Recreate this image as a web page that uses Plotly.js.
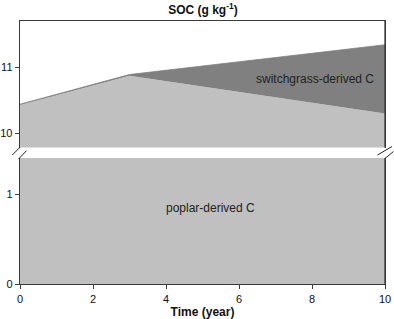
<!DOCTYPE html>
<html><head><meta charset="utf-8">
<script src="https://cdn.plot.ly/plotly-3.0.1.min.js"></script>
<style>html,body{margin:0;padding:0;background:#fff;}#chart{width:394px;height:319px;}</style>
</head><body><div id="chart"></div>
<script>
const years = [0, 3, 10];
const poplarC = [10.43, 10.87, 10.30];
const totalSOC = [10.44, 10.89, 11.34];
const xTicks = [0, 2, 4, 6, 8, 10];
const upperTicks = [10, 11];
const lowerTicks = [0, 1];

const light = '#c0c0c0', dark = '#808080', axisCol = '#3a3a3a';
const traces = [
  {x: years, y: poplarC, xaxis: 'x2', yaxis: 'y2', type: 'scatter', mode: 'lines',
   fill: 'tozeroy', fillcolor: light, line: {width: 0, color: light}, hoverinfo: 'skip'},
  {x: years, y: totalSOC, xaxis: 'x2', yaxis: 'y2', type: 'scatter', mode: 'lines',
   fill: 'tonexty', fillcolor: dark, line: {width: 0.8, color: dark}, hoverinfo: 'skip'},
  {x: years, y: poplarC, xaxis: 'x', yaxis: 'y', type: 'scatter', mode: 'lines',
   fill: 'tozeroy', fillcolor: light, line: {width: 0, color: light}, hoverinfo: 'skip'}
];
const tf = {family: 'Liberation Sans, Arial, sans-serif', size: 11, color: '#111'};
const seg = (x0, y0, x1, y1, c, w) => ({type: 'line', xref: 'paper', yref: 'paper', x0, y0, x1, y1,
  layer: 'above', line: {color: c, width: w}});
const layout = {
  width: 394, height: 319,
  margin: {l: 20, r: 9, t: 21, b: 35},
  paper_bgcolor: '#fff', plot_bgcolor: 'rgba(0,0,0,0)',
  showlegend: false,
  font: tf,
  title: {text: 'SOC (g kg<sup>-1</sup>)', x: 0.515, xanchor: 'center', y: 0.97, yanchor: 'middle',
    font: {family: 'Liberation Sans, Arial, sans-serif', size: 12, color: '#111', weight: 'bold'}},
  xaxis: {domain: [0, 1], anchor: 'y', range: [0, 10], tickvals: xTicks, ticks: 'outside', ticklen: 4,
    tickcolor: axisCol, showline: true, linecolor: axisCol, linewidth: 1.3, mirror: false,
    showgrid: false, zeroline: false, tickfont: tf,
    title: {text: '<b>Time (year)</b>', standoff: 6, font: {family: 'Liberation Sans, Arial, sans-serif', size: 12, color: '#111'}}},
  yaxis: {domain: [0, 0.479], anchor: 'x', range: [0, 1.403], tickvals: lowerTicks, ticks: 'outside', ticklen: 4,
    tickcolor: axisCol, showline: true, linecolor: axisCol, linewidth: 1.3, mirror: true,
    showgrid: false, zeroline: false, tickfont: tf},
  xaxis2: {domain: [0, 1], anchor: 'y2', side: 'top', range: [0, 10], showticklabels: false, ticks: '',
    showline: true, linecolor: axisCol, linewidth: 1.3, showgrid: false, zeroline: false},
  yaxis2: {domain: [0.519, 1], anchor: 'x2', range: [9.785, 11.70], tickvals: upperTicks, ticks: 'outside', ticklen: 4,
    tickcolor: axisCol, showline: true, linecolor: axisCol, linewidth: 1.3, mirror: true,
    showgrid: false, zeroline: false, tickfont: tf},
  annotations: [
    {text: 'switchgrass-derived C', xref: 'x2', yref: 'y2', x: 8.08, y: 10.82, showarrow: false,
     font: {family: 'Liberation Sans, Arial, sans-serif', size: 12, color: '#222'}},
    {text: 'poplar-derived C', xref: 'x', yref: 'y', x: 5.23, y: 0.85, showarrow: false,
     font: {family: 'Liberation Sans, Arial, sans-serif', size: 12, color: '#222'}}
  ],
  shapes: [
    seg(1, 0.519, 1, 1, axisCol, 1.3),
    seg(1, 0, 1, 0.479, axisCol, 1.3),
    seg(-0.021, 0.4905, 0.0, 0.520, '#222', 1),
    seg(-0.0045, 0.4745, 0.018, 0.507, '#222', 1),
    seg(0.9795, 0.4905, 1.0192, 0.5228, '#222', 1),
    seg(1.0, 0.4772, 1.0233, 0.5038, '#222', 1)
  ]
};
Plotly.newPlot('chart', traces, layout, {staticPlot: true, displayModeBar: false});
</script></body></html>
